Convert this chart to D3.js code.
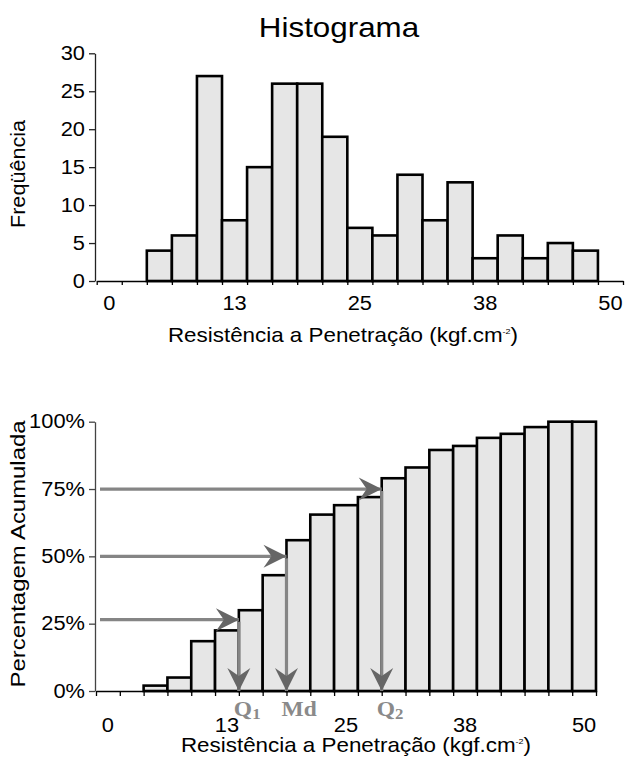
<!DOCTYPE html>
<html>
<head>
<meta charset="utf-8">
<script src="https://cdn.jsdelivr.net/npm/d3@7"></script>
<style>
  html, body { margin: 0; padding: 0; background: #fff; }
  svg { display: block; font-family: "Liberation Sans", Arial, sans-serif; }
</style>
</head>
<body>
<svg id="chart" width="627" height="757"></svg>
<script>
// ---------- data ----------
const categories = [0, 2.5, 5, 7.5, 10, 12.5, 15, 17.5, 20, 22.5, 25, 27.5, 30, 32.5, 35, 37.5, 40, 42.5, 45, 47.5, 50];
const frequencies = [0, 0, 4, 6, 27, 8, 15, 26, 26, 19, 7, 6, 14, 8, 13, 3, 6, 3, 5, 4, 0];
const cumulativePct = [0, 0, 2, 5, 18.5, 22.5, 30, 43, 56, 65.5, 69, 72, 79, 83, 89.5, 91, 94, 95.5, 98, 100, 100];
const labelCategories = [0, 12.5, 25, 37.5, 50];
const tickLabels = ["0", "13", "25", "38", "50"];
const freqTicks = [0, 5, 10, 15, 20, 25, 30];
const pctTicks = [0, 25, 50, 75, 100];
const arrowLevels = [26.5, 50, 75];            // % level of the horizontal arrows
const arrowCategories = [15, 20, 30];          // category whose band start marks the quartile
const arrowNames = ["Q", "Md", "Q"];
const arrowSubs = ["1", "", "2"];

const titleText = "Histograma";
const xTitle = "Resistência a Penetração (kgf.cm";
const xTitleSup = "-2";
const yTitleTop = "Freqüência";
const yTitleBottom = "Percentagem Acumulada";

// ---------- setup ----------
const svg = d3.select("#chart");
const SX = 1.12; // horizontal stretch of the original picture's text
const barFill = "#e6e6e6";

function stretchedText(g, x, y, txt, size, anchor) {
  return g.append("text")
    .attr("transform", `translate(${x},${y}) scale(${SX},1)`)
    .attr("text-anchor", anchor || "middle")
    .attr("font-size", size)
    .attr("fill", "#000")
    .text(txt);
}

// ---------- top histogram ----------
const topBox = { x0: 96.7, x1: 623, y0: 281, y1: 53.3 };
const xTop = d3.scaleBand().domain(categories).range([topBox.x0, topBox.x1]).padding(0);
const xTopIdx = d3.scaleLinear().domain([0, categories.length]).range([topBox.x0, topBox.x1]);
const yTop = d3.scaleLinear().domain([0, 30]).range([topBox.y0, topBox.y1]);

const gTop = svg.append("g");

gTop.append("g").selectAll("rect")
  .data(categories.map((c, i) => ({ c, v: frequencies[i] })).filter(d => d.v > 0))
  .join("rect")
  .attr("x", d => xTop(d.c))
  .attr("y", d => yTop(d.v))
  .attr("width", xTop.bandwidth())
  .attr("height", d => yTop(0) - yTop(d.v))
  .attr("fill", barFill)
  .attr("stroke", "#000")
  .attr("stroke-width", 2.6);

const xTickAxisTop = gTop.append("g")
  .attr("transform", `translate(0,${topBox.y0})`)
  .call(d3.axisBottom(xTopIdx).tickValues(d3.range(0, categories.length + 1)).tickFormat("").tickSize(4).tickSizeOuter(0));
xTickAxisTop.selectAll("line, path").attr("stroke", "#000").attr("stroke-width", 1.3);

const xLabTop = gTop.append("g")
  .attr("transform", `translate(0,${topBox.y0})`)
  .call(d3.axisBottom(xTop).tickValues(labelCategories).tickFormat((d, i) => tickLabels[i]).tickSize(0).tickPadding(0));
xLabTop.select(".domain").remove();
xLabTop.selectAll("text")
  .attr("font-family", "Liberation Sans, Arial, sans-serif")
  .attr("font-size", 19.5).attr("fill", "#000")
  .attr("dy", 0).attr("y", 29)
  .attr("transform", `scale(${SX},1)`);

const yAxTop = gTop.append("g")
  .attr("transform", `translate(${topBox.x0 - 1.7},0)`)
  .call(d3.axisLeft(yTop).tickValues(freqTicks).tickSize(6).tickSizeOuter(0).tickPadding(3));
yAxTop.selectAll("line, path").attr("stroke", "#222").attr("stroke-width", 1.3);
yAxTop.selectAll("text")
  .attr("font-family", "Liberation Sans, Arial, sans-serif")
  .attr("font-size", 19.5).attr("fill", "#000")
  .attr("transform", `scale(${SX},1)`);

stretchedText(svg, 339, 37, titleText, 28);
const xt1 = stretchedText(svg, 343, 341.5, "", 20);
xt1.append("tspan").text(xTitle);
xt1.append("tspan").attr("font-size", 8).attr("dy", -8).text(xTitleSup);
xt1.append("tspan").attr("dy", 8).text(")");

svg.append("text")
  .attr("transform", "translate(25,174) rotate(-90)")
  .attr("text-anchor", "middle")
  .attr("font-size", 21)
  .attr("textLength", 108).attr("lengthAdjust", "spacingAndGlyphs")
  .text(yTitleTop);

// ---------- bottom cumulative ----------
const botBox = { x0: 96, x1: 596, y0: 691, y1: 421.7 };
const xBot = d3.scaleBand().domain(categories).range([botBox.x0, botBox.x1]).padding(0);
const xBotIdx = d3.scaleLinear().domain([0, categories.length]).range([botBox.x0, botBox.x1]);
const yBot = d3.scaleLinear().domain([0, 100]).range([botBox.y0, botBox.y1]);

const gBot = svg.append("g");

gBot.append("g").selectAll("rect")
  .data(categories.map((c, i) => ({ c, v: cumulativePct[i] })).filter(d => d.v > 0))
  .join("rect")
  .attr("x", d => xBot(d.c))
  .attr("y", d => yBot(d.v))
  .attr("width", xBot.bandwidth())
  .attr("height", d => yBot(0) - yBot(d.v))
  .attr("fill", barFill)
  .attr("stroke", "#000")
  .attr("stroke-width", 2.6);

const xTickAxisBot = gBot.append("g")
  .attr("transform", `translate(0,${botBox.y0})`)
  .call(d3.axisBottom(xBotIdx).tickValues(d3.range(0, categories.length + 1)).tickFormat("").tickSize(5).tickSizeOuter(0));
xTickAxisBot.selectAll("line, path").attr("stroke", "#000").attr("stroke-width", 1.3);

const xLabBot = gBot.append("g")
  .attr("transform", `translate(0,${botBox.y0})`)
  .call(d3.axisBottom(xBot).tickValues(labelCategories).tickFormat((d, i) => tickLabels[i]).tickSize(0).tickPadding(0));
xLabBot.select(".domain").remove();
xLabBot.selectAll("text")
  .attr("font-family", "Liberation Sans, Arial, sans-serif")
  .attr("font-size", 19.5).attr("fill", "#000")
  .attr("dy", 0).attr("y", 41)
  .attr("transform", `scale(${SX},1)`);

const yAxBot = gBot.append("g")
  .attr("transform", `translate(${botBox.x0 - 1},0)`)
  .call(d3.axisLeft(yBot).tickValues(pctTicks).tickFormat(d => d + "%").tickSize(6).tickSizeOuter(0).tickPadding(3));
yAxBot.selectAll("line, path").attr("stroke", "#444").attr("stroke-width", 1.3);
yAxBot.selectAll("text")
  .attr("font-family", "Liberation Sans, Arial, sans-serif")
  .attr("font-size", 19.5).attr("fill", "#000")
  .attr("transform", `scale(${SX},1)`);

const xt2 = stretchedText(svg, 356, 752, "", 20);
xt2.append("tspan").text(xTitle);
xt2.append("tspan").attr("font-size", 8).attr("dy", -8).text(xTitleSup);
xt2.append("tspan").attr("dy", 8).text(")");

svg.append("text")
  .attr("transform", "translate(25,554) rotate(-90)")
  .attr("text-anchor", "middle")
  .attr("font-size", 21)
  .attr("textLength", 267).attr("lengthAdjust", "spacingAndGlyphs")
  .text(yTitleBottom);

// ---------- arrows ----------
const defs = svg.append("defs");
defs.append("marker")
  .attr("id", "head")
  .attr("markerUnits", "userSpaceOnUse")
  .attr("viewBox", "-24 -12 26 24")
  .attr("refX", 0).attr("refY", 0)
  .attr("markerWidth", 26).attr("markerHeight", 24)
  .attr("orient", "auto")
  .append("path")
  .attr("d", "M0,0 L-23,-11.5 L-15,0 L-23,11.5 Z")
  .attr("fill", "#666666");

const shaft = "#858585";
const gArr = svg.append("g");
arrowLevels.forEach((lvl, i) => {
  const ax = xBot(arrowCategories[i]);
  const ay = yBot(lvl);
  gArr.append("line")
    .attr("x1", botBox.x0 + 4).attr("y1", ay)
    .attr("x2", ax).attr("y2", ay)
    .attr("stroke", shaft).attr("stroke-width", 3.2)
    .attr("marker-end", "url(#head)");
  gArr.append("line")
    .attr("x1", ax).attr("y1", ay + 2)
    .attr("x2", ax).attr("y2", yBot(0))
    .attr("stroke", shaft).attr("stroke-width", 3.2)
    .attr("marker-end", "url(#head)");
  const t = gArr.append("text")
    .attr("transform", `translate(${ax - 5},${716}) scale(${SX},1)`)
    .attr("font-family", "Liberation Serif, 'Times New Roman', serif")
    .attr("font-weight", "bold")
    .attr("font-size", 21)
    .attr("fill", "#8a8a8a")
    .text(arrowNames[i]);
  if (arrowSubs[i]) {
    t.append("tspan").attr("font-size", 15).attr("dy", 3).text(arrowSubs[i]);
  }
});
</script>
</body>
</html>
